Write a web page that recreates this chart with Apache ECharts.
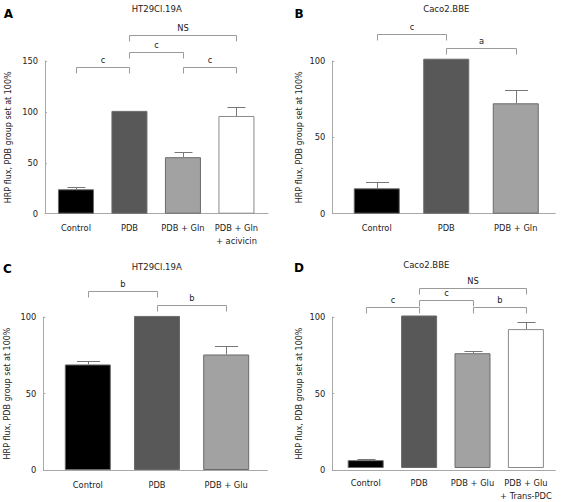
<!DOCTYPE html>
<html><head><meta charset="utf-8">
<script src="https://cdn.jsdelivr.net/npm/echarts@6/dist/echarts.min.js"></script>
<style>html,body{margin:0;padding:0;background:#fff}#c{width:567px;height:502px}</style>
</head><body><div id="c"></div>
<script>
// ---- Data ----
const catsA = ['Control', 'PDB', 'PDB + Gln', 'PDB + Gln\n+ acivicin'];
const meanA = [24, 101, 55.5, 96];
const seA = [2.5, 0, 5.5, 8.5];
const bracketsA = [[0, 1, 144, 'c'], [1, 2, 159, 'c'], [1, 3, 176, 'NS'], [2, 3, 144, 'c']];

const catsB = ['Control', 'PDB', 'PDB + Gln'];
const meanB = [16.6, 101.5, 72.3];
const seB = [4.4, 0, 8.5];
const bracketsB = [[0, 1, 118, 'c'], [1, 2, 108.7, 'a']];

const catsC = ['Control', 'PDB', 'PDB + Glu'];
const meanC = [69, 100.7, 75.5];
const seC = [2, 0, 5.5];
const bracketsC = [[0, 1, 117, 'b'], [1, 2, 108, 'b']];

const catsD = ['Control', 'PDB', 'PDB + Glu', 'PDB + Glu\n+ Trans-PDC'];
const meanD = [5.2, 101, 76, 92];
const seD = [0.8, 0, 1.3, 4.5];
const bracketsD = [[0, 1, 106.5, 'c'], [1, 2, 111.4, 'c'], [1, 3, 118.9, 'NS'], [2, 3, 106.5, 'b']];

const yMaxA = 150, yMaxB = 100, yMaxC = 100, yMaxD = 100;
const yTicksInterval = 50;
const titles = ['HT29Cl.19A', 'Caco2.BBE', 'HT29Cl.19A', 'Caco2.BBE'];
const letters = ['A', 'B', 'C', 'D'];
const yName = 'HRP flux, PDB group set at 100%';

// ---- Styles / layout ----
const FONT = 'DejaVu Sans';
const fills = ['#000000', '#585858', '#a2a2a2', '#ffffff'];
const axisColor = '#a8a8a8';

const panels = [
  {cats: catsA, mean: meanA, se: seA, br: bracketsA, max: yMaxA,
   frame: {left: 45, width: 223, top: 61, height: 152.7}, plot: {left: 49.2, width: 214},
   barW: 36, nameGap: 33, title: [156.7, 8.5], letter: [8.5, 13.5]},
  {cats: catsB, mean: meanB, se: seB, br: bracketsB, max: yMaxB,
   frame: {left: 332.3, width: 223, top: 61, height: 152.7}, plot: {left: 342, width: 208.5},
   barW: 46, nameGap: 29, title: [446.3, 8.5], letter: [299, 13.5]},
  {cats: catsC, mean: meanC, se: seC, br: bracketsC, max: yMaxC,
   frame: {left: 43.3, width: 224, top: 317, height: 153}, plot: {left: 53.2, width: 207.6},
   barW: 46, nameGap: 32, title: [156.7, 266.5], letter: [7.5, 269]},
  {cats: catsD, mean: meanD, se: seD, br: bracketsD, max: yMaxD,
   frame: {left: 332.3, width: 223, top: 317, height: 153}, plot: {left: 339, width: 213.6},
   barW: 36, nameGap: 29, title: [426.3, 265], letter: [299, 268]}
];

const grid = [], xAxis = [], yAxis = [], series = [], graphic = [];

panels.forEach((p, k) => {
  const gF = grid.length;
  grid.push({left: p.frame.left, width: p.frame.width, top: p.frame.top, height: p.frame.height});
  const gP = grid.length;
  grid.push({left: p.plot.left, width: p.plot.width, top: p.frame.top, height: p.frame.height});

  // frame axes
  xAxis.push({gridIndex: gF, type: 'value', min: 0, max: 1,
    axisLine: {show: true, lineStyle: {color: axisColor, width: 1}},
    axisTick: {show: false}, axisLabel: {show: false}, splitLine: {show: false}});
  yAxis.push({gridIndex: gF, type: 'value', min: 0, max: p.max, interval: yTicksInterval,
    name: yName, nameLocation: 'middle', nameGap: p.nameGap,
    nameTextStyle: {fontFamily: FONT, fontSize: 8, color: '#222'},
    axisLine: {show: true, lineStyle: {color: axisColor, width: 1}},
    axisTick: {show: true, inside: true, length: 2, lineStyle: {color: axisColor}},
    axisLabel: {fontFamily: FONT, fontSize: 8.3, color: '#222', margin: 7},
    splitLine: {show: false}});

  // plot axes
  xAxis.push({gridIndex: gP, type: 'category', data: p.cats,
    axisLine: {show: false}, axisTick: {show: false},
    axisLabel: {fontFamily: FONT, fontSize: 8.3, color: '#222', margin: 8, lineHeight: 13, interval: 0}});
  yAxis.push({gridIndex: gP, type: 'value', min: 0, max: p.max, show: false});
  const xP = xAxis.length - 1, yP = yAxis.length - 1;

  series.push({type: 'bar', xAxisIndex: xP, yAxisIndex: yP, barWidth: p.barW, clip: false,
    data: p.mean.map((v, i) => ({value: v, itemStyle: {color: fills[i], borderColor: i === 3 ? '#8a8a8a' : '#6a6a6a', borderWidth: 1}})),
    silent: true, animation: false, z: 2});

  const barW = p.barW;
  series.push({type: 'custom', xAxisIndex: xP, yAxisIndex: yP, animation: false, silent: true, clip: false, z: 3,
    data: p.mean.map((v, i) => [i, v, v + p.se[i], p.se[i]]),
    renderItem: function (params, api) {
      if (api.value(3) <= 0) return null;
      const base = api.coord([api.value(0), api.value(1)]);
      const top = api.coord([api.value(0), api.value(2)]);
      const x = Math.round(base[0]) + 0.5, yt = Math.round(top[1]) + 0.5;
      const h = barW / 4;
      return {type: 'group', children: [
        {type: 'line', shape: {x1: x, y1: base[1], x2: x, y2: yt}, style: {stroke: '#777', lineWidth: 1}},
        {type: 'line', shape: {x1: x - h, y1: yt, x2: x + h, y2: yt}, style: {stroke: '#777', lineWidth: 1}}
      ]};
    }});

  const labels = p.br.map(b => b[3]);
  series.push({type: 'custom', xAxisIndex: xP, yAxisIndex: yP, animation: false, silent: true, clip: false, z: 4,
    data: p.br.map(b => [b[0], b[1], b[2]]),
    renderItem: function (params, api) {
      const p1 = api.coord([api.value(0), api.value(2)]);
      const p2 = api.coord([api.value(1), api.value(2)]);
      const y = Math.round(p1[1]) + 0.5;
      const x1 = Math.round(p1[0]) + 0.5, x2 = Math.round(p2[0]) + 0.5;
      const leg = 6;
      return {type: 'group', children: [
        {type: 'polyline', shape: {points: [[x1, y + leg], [x1, y], [x2, y], [x2, y + leg]]},
         style: {stroke: '#9a9a9a', lineWidth: 1, fill: null}},
        {type: 'text', style: {text: labels[params.dataIndex], x: (x1 + x2) / 2, y: y - 7.5,
         align: 'center', verticalAlign: 'middle', fontFamily: FONT, fontSize: 8.3, fill: '#222'}}
      ]};
    }});

  graphic.push({type: 'text', x: p.title[0], y: p.title[1],
    style: {text: titles[k], align: 'center', verticalAlign: 'middle', fontFamily: FONT, fontSize: 8.5, fill: '#222'}});
  graphic.push({type: 'text', x: p.letter[0], y: p.letter[1],
    style: {text: letters[k], align: 'center', verticalAlign: 'middle', fontFamily: FONT, fontSize: 12, fontWeight: 'bold', fill: '#000'}});
});

const chart = echarts.init(document.getElementById('c'), null, {renderer: 'svg'});
chart.setOption({animation: false, backgroundColor: '#fff', grid, xAxis, yAxis, series, graphic});
</script></body></html>
